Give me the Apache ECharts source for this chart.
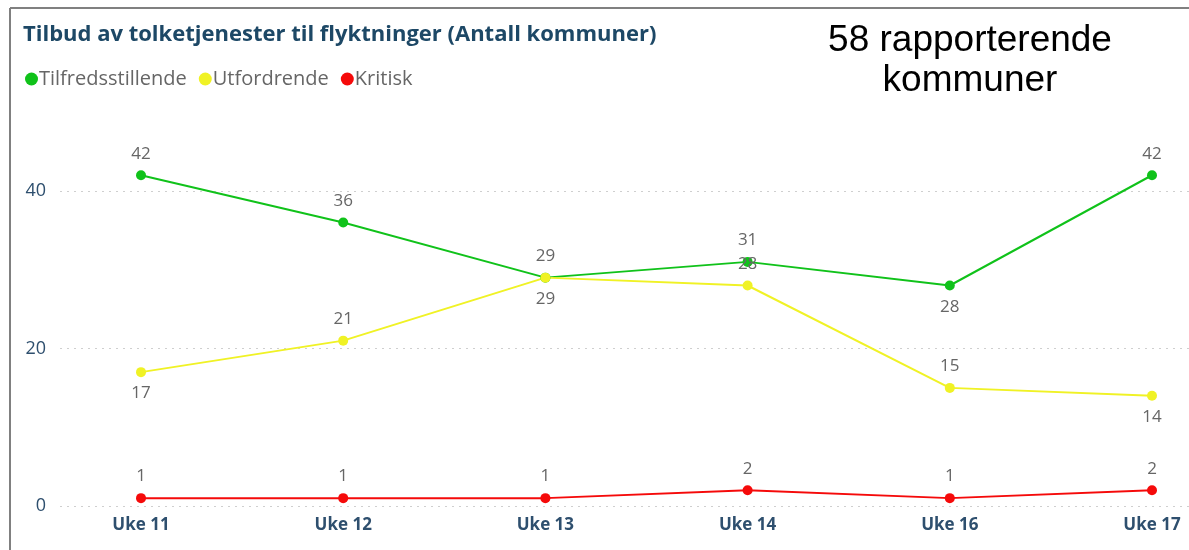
<!DOCTYPE html>
<html>
<head>
<meta charset="utf-8">
<title>Tilbud av tolketjenester</title>
<script src="https://cdn.jsdelivr.net/npm/echarts@6/dist/echarts.min.js"></script>
<style>
  html, body { margin: 0; padding: 0; background: #fff; }
  #chart { width: 1189px; height: 550px; }
</style>
</head>
<body>
<div id="chart"></div>
<script>
// uker
var weeks = ['Uke 11', 'Uke 12', 'Uke 13', 'Uke 14', 'Uke 16', 'Uke 17'];
var seriesNames = ['Tilfredsstillende', 'Utfordrende', 'Kritisk'];
var tilfreds = [42, 36, 29, 31, 28, 42];
var utfordrende = [17, 21, 29, 28, 15, 14];
var kritisk = [1, 1, 1, 2, 1, 2];
var yTicks = [0, 20, 40];

// plassering av tallene (over / under punktet)
var tilfredsPos = ['top', 'top', 'bottom', 'top', 'bottom', 'top'];
var utfordPos = ['bottom', 'top', 'top', 'top', 'top', 'bottom'];
var kritiskPos = ['top', 'top', 'top', 'top', 'top', 'top'];

var colors = ['#10c21a', '#f0f225', '#f50a0a'];

function toPoints(values, positions) {
  return values.map(function (v, i) {
    return {
      value: [i, v],
      label: { position: positions[i] }
    };
  });
}

function lineSeries(name, values, positions, color) {
  return {
    name: name,
    type: 'line',
    data: toPoints(values, positions),
    symbol: 'circle',
    symbolSize: 10,
    lineStyle: { color: color, width: 2 },
    itemStyle: { color: color },
    label: {
      show: true,
      distance: 8,
      color: '#666',
      fontSize: 17,
      fontFamily: 'Open Sans',
      formatter: function (p) { return p.value[1]; }
    },
    emphasis: { disabled: true },
    animation: false
  };
}

var chart = echarts.init(document.getElementById('chart'));
var option = {
  title: [
    {
      text: 'Tilbud av tolketjenester til flyktninger (Antall kommuner)',
      left: 18,
      top: 19,
      textStyle: {
        color: '#1d4866',
        fontSize: 22,
        fontWeight: 'bold',
        fontFamily: 'Open Sans'
      }
    },
    {
      text: '58 rapporterende\nkommuner',
      left: 965,
      top: 16,
      textAlign: 'center',
      textStyle: {
        color: '#000',
        fontSize: 37,
        fontWeight: 'normal',
        fontFamily: 'Liberation Sans',
        lineHeight: 40
      }
    }
  ],
  legend: {
    data: seriesNames,
    left: 20,
    top: 64,
    icon: 'circle',
    itemWidth: 13,
    itemHeight: 13,
    itemGap: 12,
    textStyle: { color: '#666', fontSize: 20, fontFamily: 'Open Sans', padding: [0, 0, 0, -4] }
  },
  grid: { left: 60, right: 0, top: 128, bottom: 44 },
  xAxis: {
    type: 'value',
    min: -0.4006,
    max: 5.183,
    axisLine: { show: false },
    axisTick: { show: false },
    splitLine: { show: false },
    axisLabel: {
      customValues: weeks.map(function (w, i) { return i; }),
      formatter: function (v) { return weeks[Math.round(v)]; },
      color: '#2e4f6e',
      fontSize: 17,
      fontWeight: 'bold',
      fontFamily: 'Open Sans',
      margin: 11
    }
  },
  yAxis: {
    type: 'value',
    min: 0,
    max: 48,
    interval: 20,
    axisLine: { show: false },
    axisTick: { show: false },
    axisLabel: {
      showMaxLabel: false,
      color: '#2e4f6e',
      fontSize: 18,
      fontFamily: 'Open Sans',
      margin: 14,
      formatter: function (v) { return yTicks.indexOf(v) >= 0 ? v : ''; }
    },
    splitLine: {
      showMaxLine: false,
      lineStyle: { color: '#cfcfcf', type: [2, 5], width: 1 }
    }
  },
  graphic: [
    // ramme oppe og til venstre
    { type: 'line', shape: { x1: 10, y1: 8, x2: 1189, y2: 8 }, style: { stroke: '#808080', lineWidth: 2 }, silent: true },
    { type: 'line', shape: { x1: 10, y1: 8, x2: 10, y2: 550 }, style: { stroke: '#808080', lineWidth: 2 }, silent: true }
  ],
  series: [
    lineSeries(seriesNames[0], tilfreds, tilfredsPos, colors[0]),
    lineSeries(seriesNames[1], utfordrende, utfordPos, colors[1]),
    lineSeries(seriesNames[2], kritisk, kritiskPos, colors[2])
  ]
};
chart.setOption(option);
</script>
</body>
</html>
